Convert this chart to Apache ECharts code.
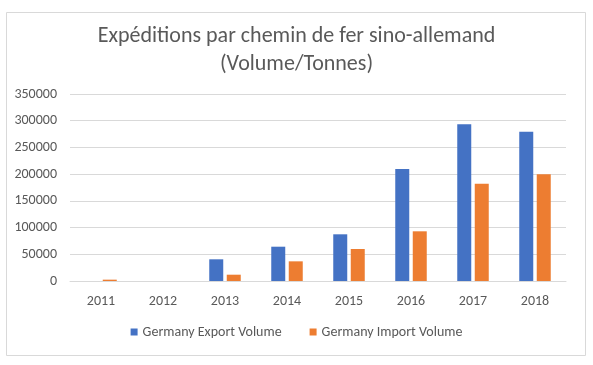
<!DOCTYPE html>
<html><head><meta charset="utf-8">
<script src="https://cdn.jsdelivr.net/npm/echarts@6/dist/echarts.min.js"></script>
<style>html,body{margin:0;padding:0;background:#fff}#c{width:593px;height:365px}</style>
</head><body><div id="c"></div>
<script>
const categories = ['2011','2012','2013','2014','2015','2016','2017','2018'];
const exportVolume = [0, 0, 40600, 64200, 87400, 209700, 293300, 279500];
const importVolume = [2500, 0, 11800, 36800, 59900, 93000, 182200, 199700];
const yTicks = { min: 0, max: 350000, interval: 50000 };
const seriesNames = ['Germany Export Volume', 'Germany Import Volume'];
const titleText = 'Expéditions par chemin de fer sino-allemand\n(Volume/Tonnes)';

const font = 'Carlito, "Open Sans", "Liberation Sans", sans-serif';
const chart = echarts.init(document.getElementById('c'), null, {renderer: 'canvas'});
chart.setOption({
  animation: false,
  backgroundColor: '#fff',
  graphic: [{
    type: 'rect', left: 4, top: 10, z: -1,
    shape: { width: 579, height: 343 },
    style: { fill: 'none', stroke: '#d9d9d9', lineWidth: 1 }
  }],
  title: {
    text: titleText, left: 'center', top: 17,
    textStyle: { fontFamily: font, fontSize: 22, fontWeight: 'normal', color: '#595959', lineHeight: 28 }
  },
  grid: { left: 70, right: 27, top: 94, bottom: 84, containLabel: false },
  legend: {
    bottom: 21, left: 'center', itemWidth: 7, itemHeight: 7, itemGap: 28,
    icon: 'rect',
    textStyle: { fontFamily: font, fontSize: 14, color: '#595959' },
    data: seriesNames
  },
  xAxis: {
    type: 'category', data: categories,
    axisLine: { lineStyle: { color: '#d9d9d9' } },
    axisTick: { show: false },
    axisLabel: { fontFamily: font, fontSize: 14, color: '#595959', margin: 13 }
  },
  yAxis: {
    type: 'value', min: yTicks.min, max: yTicks.max, interval: yTicks.interval,
    axisLine: { show: false }, axisTick: { show: false },
    splitLine: { lineStyle: { color: '#d9d9d9' } },
    axisLabel: { fontFamily: font, fontSize: 14, color: '#595959', margin: 13, formatter: v => String(v) }
  },
  series: [
    { name: seriesNames[0], type: 'bar', data: exportVolume, barWidth: 14, barGap: '25%', itemStyle: { color: '#4472c4' } },
    { name: seriesNames[1], type: 'bar', data: importVolume, barWidth: 14, itemStyle: { color: '#ed7d31' } }
  ]
});
</script></body></html>
